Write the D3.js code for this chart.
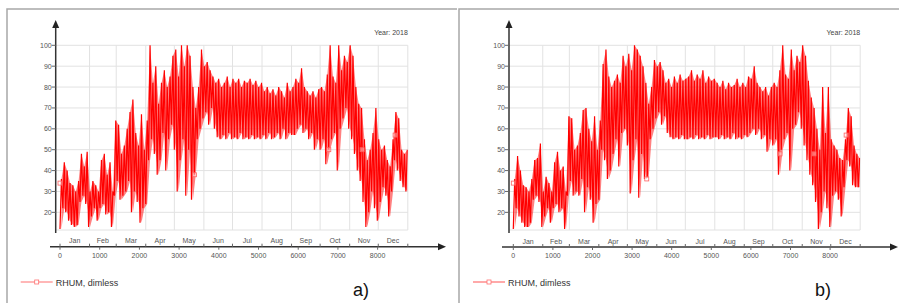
<!DOCTYPE html>
<html>
<meta charset="utf-8">
<head>
<script src="https://d3js.org/d3.v7.min.js"></script>
<style>
body { margin: 0; background: #fff; }
text { font-family: "Liberation Sans", Arial, sans-serif; }
</style>
</head>
<body>
<div id="chart"></div>
<script>
var step = 72;
var monthNames = ["Jan","Feb","Mar","Apr","May","Jun","Jul","Aug","Sep","Oct","Nov","Dec"];
var monthEdges = [0,744,1416,2160,2880,3624,4344,5088,5832,6552,7296,8016,8760];
var hourTicks = [0,1000,2000,3000,4000,5000,6000,7000,8000];
var yTicks = [20,30,40,50,60,70,80,90,100];

// panel a)
var loA = [12,22,20,16,14,13,14,25,28,24,13,
           18,22,16,22,24,19,20,13,28,
           35,26,28,30,35,20,30,25,15,22,
           24,45,55,48,38,45,58,40,55,62,
           50,30,45,55,28,50,26,38,55,60,65,
           68,62,70,60,56,55,57,55,58,55,
           56,55,58,55,56,55,57,55,56,55,
           57,55,58,55,56,58,55,60,55,58,57,
           57,60,62,58,60,55,58,50,55,50,
           55,43,50,55,58,40,60,65,70,60,
           55,48,40,35,25,13,20,30,22,16,
           25,32,28,18,30,45,40,35,32,30];
var hiA = [36,44,40,34,33,30,35,48,42,49,30,
           35,33,30,45,48,38,44,30,64,
           62,48,52,60,68,74,58,52,67,50,
           64,100,82,90,72,82,88,80,85,95,
           98,85,100,90,100,95,80,70,80,98,90,
           92,88,85,82,84,80,82,85,80,84,
           82,84,80,83,82,84,81,83,80,82,
           78,80,77,79,76,80,78,75,82,78,80,
           84,82,89,80,78,76,78,75,79,80,
           78,86,100,85,82,100,88,95,92,100,
           95,80,72,70,55,45,50,58,70,55,
           50,52,45,42,55,68,65,50,48,50];
var markHoursA = [0,3390,6770,7610,8440];
var markValsA = [34,38,50,50,57];

// panel b)
var loB = [12,22,18,15,13,13,15,26,28,25,13,
           18,22,15,22,24,20,22,12,28,
           35,28,30,28,36,20,32,26,15,24,
           26,50,45,36,40,48,55,42,58,60,
           52,29,45,55,27,48,36,37,55,60,65,
           68,62,66,58,56,55,56,55,57,55,
           55,56,55,57,55,56,55,57,55,56,
           56,55,57,55,56,55,58,55,56,55,57,
           56,58,60,57,60,55,57,49,55,52,
           55,38,50,55,58,40,60,62,68,60,
           52,45,38,33,25,12,20,30,22,13,
           28,30,26,18,32,45,42,33,32,32];
var hiB = [36,47,40,33,32,30,36,45,46,53,30,
           37,34,30,44,49,40,42,30,66,
           65,50,52,58,69,70,60,54,66,50,
           64,91,98,85,80,83,86,82,95,90,
           96,88,100,98,95,90,82,72,80,93,90,
           92,88,82,84,80,85,82,86,83,84,
           85,88,83,86,84,88,82,85,83,84,
           82,80,83,79,82,80,81,84,80,82,80,
           85,84,90,82,80,78,80,76,80,82,
           80,88,100,86,84,98,88,95,92,100,
           95,83,75,70,60,50,80,58,80,55,
           52,50,46,45,55,70,66,52,48,46];
var markHoursB = [0,3370,6735,7593,8405];
var markValsB = [34,36,48,48,57];

var svg = d3.select("#chart").append("svg")
    .attr("width", 899).attr("height", 303);

function drawPanel(p, lo, hi, markH, markV, id) {
  var g = svg.append("g");

  // frame
  g.append("path")
    .attr("d", "M" + p.frameX + ",303V9H" + p.frameR)
    .attr("fill", "none").attr("stroke", "#a8a8a8").attr("stroke-width", 1.5);

  var x = d3.scaleLinear().domain([0, 8760]).range([p.x0, p.x1]);
  var y = d3.scaleLinear().domain([0, 100]).range([254.1, 45.3]);
  var plotTop = y(100), plotBot = 230;

  // grid
  g.selectAll(".hg").data(yTicks).enter().append("line")
    .attr("x1", p.axisX).attr("x2", p.x1)
    .attr("y1", function(d) { return y(d); }).attr("y2", function(d) { return y(d); })
    .attr("stroke", "#e2e2e2");
  g.selectAll(".vg").data(monthEdges.slice(1)).enter().append("line")
    .attr("x1", function(d) { return x(d); }).attr("x2", function(d) { return x(d); })
    .attr("y1", plotTop).attr("y2", plotBot)
    .attr("stroke", "#e2e2e2");
  g.append("line").attr("x1", p.axisX).attr("x2", p.x1)
    .attr("y1", plotBot).attr("y2", plotBot).attr("stroke", "#e2e2e2");

  // series: zigzag through lows and highs
  g.append("clipPath").attr("id", id).append("rect")
    .attr("x", p.axisX).attr("y", plotTop - 1)
    .attr("width", p.x1 - p.axisX).attr("height", plotBot - plotTop + 1);
  var pts = [];
  lo.forEach(function(v, i) {
    pts.push([i * step, v]);
    pts.push([i * step + step / 2, hi[i]]);
  });
  var series = g.append("g").attr("clip-path", "url(#" + id + ")");
  series.append("path")
    .datum(lo.map(function(v, i) { return [i * step + step / 2, v, hi[i]]; }))
    .attr("d", d3.area()
      .x(function(d) { return x(d[0]); })
      .y0(function(d) { return y(d[1]); })
      .y1(function(d) { return y(d[2]); }))
    .attr("fill", "#ff1a1a").attr("fill-opacity", 0.55);
  series.append("path")
    .datum(pts)
    .attr("d", d3.line()
      .x(function(d) { return x(d[0]); })
      .y(function(d) { return y(d[1]); }))
    .attr("fill", "none").attr("stroke", "#ff0000").attr("stroke-width", 1.2);
  series.selectAll(".mk").data(markH).enter().append("rect")
    .attr("x", function(d) { return x(d) - 2; })
    .attr("y", function(d, i) { return y(markV[i]) - 2; })
    .attr("width", 4).attr("height", 4)
    .attr("fill", "#fff").attr("fill-opacity", 0.4)
    .attr("stroke", "#ff6060").attr("stroke-width", 0.8);

  // y axis
  g.append("line").attr("x1", p.axisX).attr("x2", p.axisX)
    .attr("y1", 26).attr("y2", 233)
    .attr("stroke", "#333").attr("stroke-width", 1.5);
  g.append("path")
    .attr("d", "M" + p.axisX + ",20l-3.5,8h7z").attr("fill", "#222");
  g.selectAll(".yt").data(yTicks).enter().append("line")
    .attr("x1", p.axisX - 4).attr("x2", p.axisX)
    .attr("y1", function(d) { return y(d); }).attr("y2", function(d) { return y(d); })
    .attr("stroke", "#666");
  g.selectAll(".yl").data(yTicks).enter().append("text")
    .attr("x", p.axisX - 4).attr("y", function(d) { return y(d) + 2.5; })
    .attr("text-anchor", "end").attr("font-size", 7).attr("fill", "#555")
    .text(function(d) { return d; });

  // x axis
  var ay = p.axisY;
  g.append("line").attr("x1", p.xAxisL).attr("x2", p.xAxisR - 6)
    .attr("y1", ay).attr("y2", ay)
    .attr("stroke", "#333").attr("stroke-width", 1.5);
  g.append("path")
    .attr("d", "M" + p.xAxisR + "," + ay + "l-8,-3.5v7z").attr("fill", "#222");
  g.selectAll(".mt").data(monthEdges).enter().append("line")
    .attr("x1", function(d) { return x(d); }).attr("x2", function(d) { return x(d); })
    .attr("y1", ay - 3).attr("y2", ay)
    .attr("stroke", "#666");
  g.selectAll(".ml").data(monthNames).enter().append("text")
    .attr("x", function(d, i) { return x((monthEdges[i] + monthEdges[i + 1]) / 2); })
    .attr("y", ay - 3.5)
    .attr("text-anchor", "middle").attr("font-size", 7).attr("fill", "#555")
    .text(function(d) { return d; });
  g.selectAll(".nt").data(hourTicks).enter().append("line")
    .attr("x1", function(d) { return x(d); }).attr("x2", function(d) { return x(d); })
    .attr("y1", ay).attr("y2", ay + 3)
    .attr("stroke", "#666");
  g.selectAll(".nl").data(hourTicks).enter().append("text")
    .attr("x", function(d) { return x(d); }).attr("y", ay + 11)
    .attr("text-anchor", "middle").attr("font-size", 7).attr("fill", "#555")
    .text(function(d) { return d; });

  g.append("text").attr("x", p.x1).attr("y", 35)
    .attr("text-anchor", "end").attr("font-size", 7).attr("fill", "#444")
    .text("Year: 2018");

  // legend
  g.append("line").attr("x1", p.legX).attr("x2", p.legX + 32)
    .attr("y1", 282).attr("y2", 282)
    .attr("stroke", "#ff7070").attr("stroke-width", 1.2);
  g.append("rect").attr("x", p.legX + 14).attr("y", 280).attr("width", 4).attr("height", 4)
    .attr("fill", "#fff").attr("stroke", "#ff7070").attr("stroke-width", 0.8);
  g.append("text").attr("x", p.legX + 35).attr("y", 285.5)
    .attr("font-size", 9).attr("fill", "#333")
    .text("RHUM, dimless");

  g.append("text").attr("x", p.labX).attr("y", 296)
    .attr("font-family", "'Liberation Serif', 'Times New Roman', serif")
    .attr("font-size", 18).attr("fill", "#111")
    .text(p.label);
}

drawPanel({frameX: 7, frameR: 457, axisX: 55.7, x0: 60, x1: 407.8,
           axisY: 246.7, xAxisL: 50, xAxisR: 446, legX: 20.7, labX: 353, label: "a)"},
          loA, hiA, markHoursA, markValsA, "clipA");
drawPanel({frameX: 459, frameR: 899, axisX: 509, x0: 513.3, x1: 860.2,
           axisY: 247, xAxisL: 502, xAxisR: 898, legX: 473, labX: 815, label: "b)"},
          loB, hiB, markHoursB, markValsB, "clipB");
</script>
</body>
</html>
